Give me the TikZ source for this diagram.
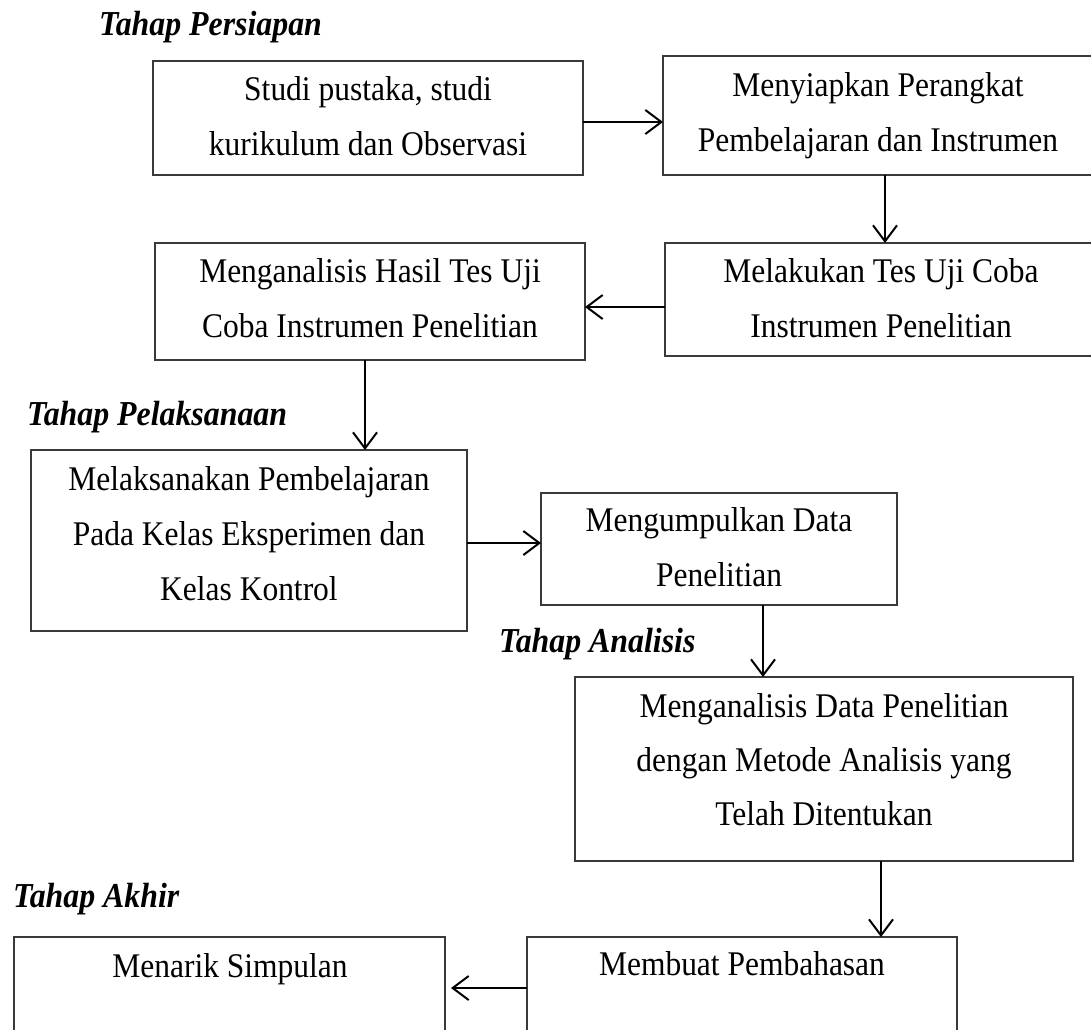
\documentclass[tikz,border=0pt]{standalone}
\usepackage{fontspec}
\setmainfont{Liberation Serif}
% slightly condensed face: glyphs a little taller than they are wide
\newfontfamily\boxfont{Liberation Serif}[FakeStretch=0.91]
\usetikzlibrary{arrows.meta}
\definecolor{boxline}{HTML}{3A3A3A}
\begin{document}
\begin{tikzpicture}[x=1pt,y=-1pt,
  box/.style={draw=boxline, line width=1.5pt, inner sep=0pt, outer sep=0pt, anchor=north west},
  lbl/.style={anchor=base, inner sep=0pt, text width=480pt, align=flush center,
    font=\boxfont\fontsize{34.6}{55}\selectfont},
  phase/.style={anchor=base west, inner sep=0pt,
    font=\boxfont\fontsize{35}{40}\selectfont\bfseries\itshape},
  arr/.style={draw=black, line width=2pt,
    -{Straight Barb[length=16pt,width=24pt,line width=2pt]}}]
\useasboundingbox (0,0) rectangle (1091,1029);
\clip (0,0) rectangle (1091,1029);

% process boxes
\node[box, minimum width=430pt, minimum height=114pt] (b1) at (153,61) {};
\node[box, minimum width=431pt, minimum height=119pt] (b2) at (663,56) {};
\node[box, minimum width=429pt, minimum height=113pt] (b3) at (665,243) {};
\node[box, minimum width=430pt, minimum height=117pt] (b4) at (155,243) {};
\node[box, minimum width=436pt, minimum height=181pt] (b5) at (31,450) {};
\node[box, minimum width=356pt, minimum height=112pt] (b6) at (541,493) {};
\node[box, minimum width=498pt, minimum height=184pt] (b7) at (575,677) {};
\node[box, minimum width=430pt, minimum height=102pt] (b8) at (527,937) {};
\node[box, minimum width=431pt, minimum height=102pt] (b9) at (14,937) {};

% box texts
\node[lbl] (t1) at (368,100) {Studi pustaka, studi\\kurikulum dan Observasi};
\node[lbl] (t2) at (878,96) {Menyiapkan Perangkat\\Pembelajaran dan Instrumen};
\node[lbl] (t3) at (881,282) {Melakukan Tes Uji Coba\\Instrumen Penelitian};
\node[lbl] (t4) at (370,282) {Menganalisis Hasil Tes Uji\\Coba Instrumen Penelitian};
\node[lbl] (t5) at (249,490) {Melaksanakan Pembelajaran\\Pada Kelas Eksperimen dan\\Kelas Kontrol};
\node[lbl] (t6) at (719,531) {Mengumpulkan Data\\Penelitian};
\node[lbl, font=\boxfont\fontsize{34.6}{54}\selectfont] (t7) at (824,717)
  {Menganalisis Data Penelitian\\dengan Metode Analisis yang\\Telah Ditentukan};
\node[lbl] (t8) at (742,975) {Membuat Pembahasan};
\node[lbl] (t9) at (230,977) {Menarik Simpulan};

% phase headings
\node[phase] (p1) at (99,35) {Tahap Persiapan};
\node[phase] (p2) at (27,425) {Tahap Pelaksanaan};
\node[phase] (p3) at (499,652) {Tahap Analisis};
\node[phase] (p4) at (13,907) {Tahap Akhir};

% connectors
\coordinate (a12) at ([yshift=-4pt]b1.east);
\draw[arr] (a12) -- (a12 -| b2.west);
\coordinate (a23) at ([xshift=6.5pt]b2.south);
\draw[arr] (a23) -- (a23 |- b3.north);
\coordinate (a34) at ([yshift=-7.5pt]b3.west);
\draw[arr] (a34) -- (a34 -| b4.east);
\coordinate (a45) at ([xshift=-5pt]b4.south);
\draw[arr] (a45) -- (a45 |- b5.north);
\coordinate (a56) at ([yshift=-2.5pt]b5.east);
\draw[arr] (a56) -- (a56 -| b6.west);
\coordinate (a67) at ([xshift=44pt]b6.south);
\draw[arr] (a67) -- (a67 |- b7.north);
\coordinate (a78) at ([xshift=57pt]b7.south);
\draw[arr] (a78) -- (a78 |- b8.north);
\draw[arr, shorten >=6pt] (b8.west) -- (b9.east);
\end{tikzpicture}
\end{document}
